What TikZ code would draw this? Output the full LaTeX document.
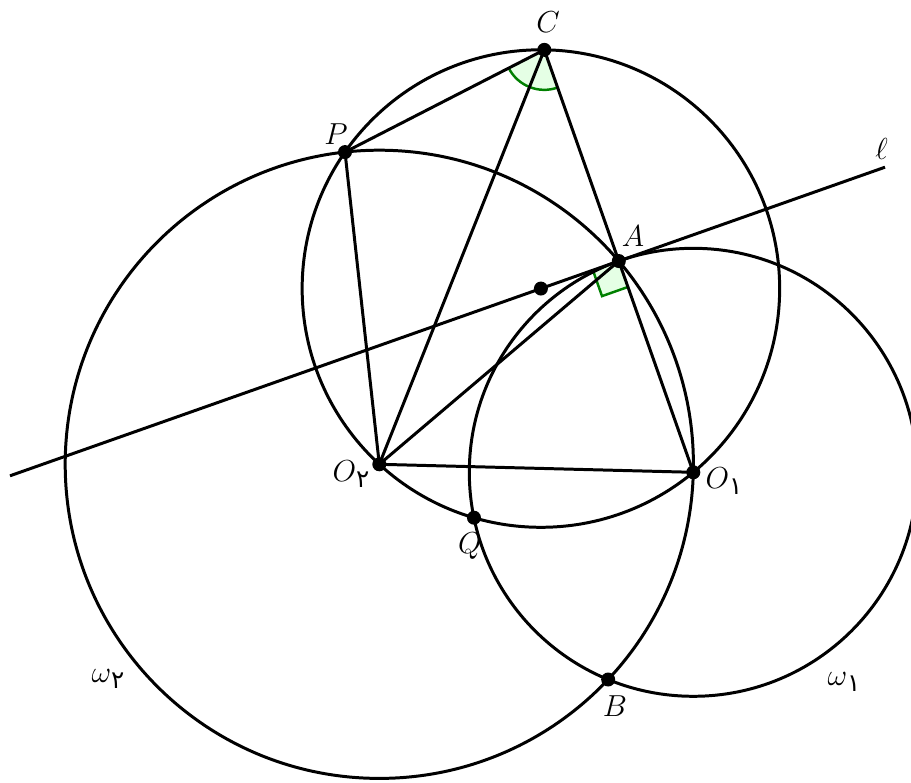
\documentclass[tikz,border=0pt]{standalone}
\usepackage{fontspec}
\usepackage{tikz}
\usetikzlibrary{calc}
\newfontfamily\fadigits[Script=Arabic]{DejaVu Sans}
\newcommand{\fasub}[1]{\raisebox{-0.45ex}{\fontsize{14}{14}\selectfont\fadigits #1}}

\begin{document}
\begin{tikzpicture}[
  every node/.style={font=\fontsize{19}{22}\selectfont},
  geo/.style={line width=1.7pt, draw=black, line join=round},
  dot/.style={circle, fill=black, inner sep=0pt, minimum size=2.8mm},
  anglefill/.style={fill=green!10},
  anglemark/.style={draw=green!50!black, line width=1.4pt},
  lbl/.style={inner sep=1pt}
]
  \useasboundingbox (0,0) rectangle (18.22,15.64);
  \clip (0,0) rectangle (18.22,15.64);

  % Points
  \coordinate (O2) at (7.586,6.354);
  \coordinate (O1) at (13.866,6.194);
  \coordinate (A) at (12.376,10.419);
  \coordinate (B) at (12.163,2.050);
  \coordinate (M) at (10.818,9.869);
  \coordinate (C) at (10.886,14.643);
  \coordinate (P) at (6.900,12.598);
  \coordinate (Q) at (9.479,5.286);
  \coordinate (L1) at (0.200,6.124);
  \coordinate (L2) at (17.700,12.296);

  % Angle marks
  \fill[anglefill] (C) -- ++(207.16:0.8) arc[start angle=207.16, end angle=289.43, radius=0.8] -- cycle;
  \draw[anglemark] (C) ++(207.16:0.8) arc[start angle=207.16, end angle=289.43, radius=0.8];
  \fill[anglefill] (A) -- ++(199.44:0.55) -- ++(289.43:0.55) -- ++(19.44:0.55) -- cycle;
  \draw[anglemark] (A) ++(199.44:0.55) -- ++(289.43:0.55) -- ++(19.44:0.55);

  % Circles
  \draw[geo] (O2) circle[radius=6.282];
  \draw[geo] (O1) circle[radius=4.48];
  \draw[geo] (M) circle[radius=4.775];

  % Tangent l
  \draw[geo] (L1) -- (L2);

  % Segments
  \draw[geo] (P) -- (C) -- (O1) -- (O2) -- cycle;
  \draw[geo] (C) -- (O2) -- (A);

  % Dots
  \foreach \p in {C,P,A,M,O2,O1,Q,B}
    \node[dot] (dot\p) at (\p) {};

  % Labels
  \node[lbl] (labC) at (10.96,15.2) {$C$};
  \node[lbl] (labP) at (6.72,12.95) {$P$};
  \node[lbl] (labl) at (17.63,12.67) {$\ell$};
  \node[lbl] (labA) at (12.66,10.92) {$A$};
  \node[lbl] (labOtwo) at (7.02,6.16) {$O$\fasub{۲}};
  \node[lbl] (labOone) at (14.48,6.02) {$O$\fasub{۱}};
  \node[lbl] (labQ) at (9.40,4.72) {$Q$};
  \node[lbl] (labB) at (12.30,1.52) {$B$};
  \node[lbl] (labwtwo) at (2.16,2.06) {$\omega$\fasub{۲}};
  \node[lbl] (labwone) at (16.88,2.00) {$\omega$\fasub{۱}};
\end{tikzpicture}
\end{document}
